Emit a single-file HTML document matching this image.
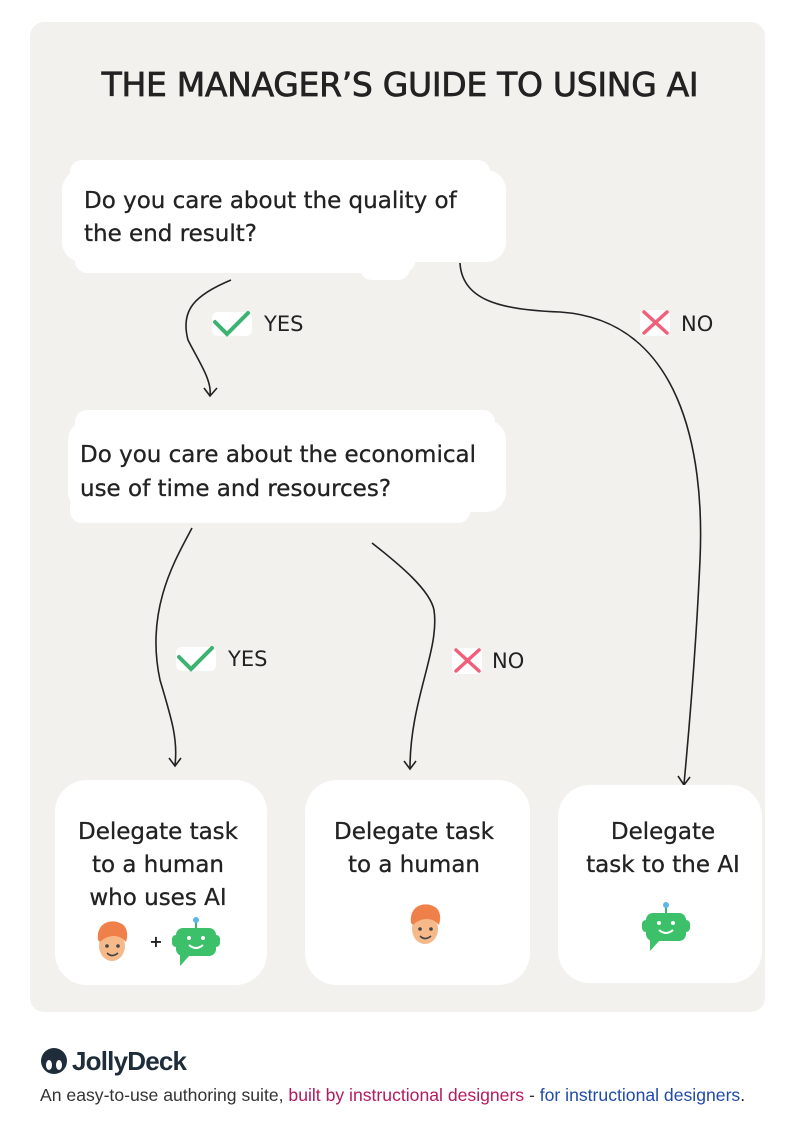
<!DOCTYPE html>
<html><head><meta charset="utf-8"><style>
html,body{margin:0;padding:0;background:#fff;width:800px;height:1127px;overflow:hidden}
svg{display:block}
text{font-family:"DejaVu Sans","Liberation Sans",sans-serif;fill:#222}
</style></head><body>
<svg width="800" height="1127" viewBox="0 0 800 1127" xmlns="http://www.w3.org/2000/svg">
<rect x="30" y="22" width="735" height="990" rx="14" fill="#f3f1ed"/>
<text x="400" y="96" text-anchor="middle" font-size="33" letter-spacing="-0.3" stroke="#222" stroke-width="0.7">THE MANAGER’S GUIDE TO USING AI</text>

<!-- Q1 blob -->
<g fill="#fff">
<rect x="62" y="170" width="444" height="92" rx="20"/>
<rect x="70" y="160" width="420" height="30" rx="12"/>
<rect x="75" y="245" width="340" height="28" rx="12"/>
<rect x="360" y="250" width="50" height="30" rx="12"/>
</g>
<text font-size="23" x="84" y="208" stroke="#222" stroke-width="0.3">Do you care about the quality of</text>
<text font-size="23" x="84" y="241" stroke="#222" stroke-width="0.3">the end result?</text>

<!-- Q2 blob -->
<g fill="#fff">
<rect x="68" y="420" width="438" height="92" rx="20"/>
<rect x="75" y="410" width="420" height="30" rx="12"/>
<rect x="70" y="495" width="400" height="28" rx="12"/>
</g>
<text font-size="23" x="80" y="462" stroke="#222" stroke-width="0.3">Do you care about the economical</text>
<text font-size="23" x="80" y="496" stroke="#222" stroke-width="0.3">use of time and resources?</text>

<!-- connectors -->
<g fill="none" stroke="#222" stroke-width="1.6">
<path d="M231 280 C195 295 180 310 188 340 C198 360 212 380 210 395"/>
<path d="M204 388 L210 396 L217 388"/>
<path d="M460 263 C462 300 500 310 560 312 C680 320 705 450 700 560 C696 650 690 720 684 784"/>
<path d="M678 776 L684 785 L690 777"/>
<path d="M192 528 C175 560 145 610 160 680 C172 720 178 740 175 765"/>
<path d="M169 758 L175 766 L181 758"/>
<path d="M372 543 C400 565 430 590 434 610 C440 650 410 700 410 768"/>
<path d="M404 761 L410 769 L416 761"/>
</g>

<!-- labels -->
<rect x="212" y="312" width="40" height="24" rx="6" fill="#fff"/>
<path d="M215 322 L227 334 L248 313" stroke="#3cb371" stroke-width="4" fill="none" stroke-linecap="round"/>
<text font-size="21" x="264" y="331">YES</text>
<rect x="176" y="647" width="40" height="24" rx="6" fill="#fff"/>
<path d="M179 657 L191 669 L212 648" stroke="#3cb371" stroke-width="4" fill="none" stroke-linecap="round"/>
<text font-size="21" x="228" y="666">YES</text>
<rect x="640" y="310" width="30" height="26" rx="6" fill="#fff"/>
<path d="M644 312 L667 333 M667 312 L644 333" stroke="#f0607a" stroke-width="3.5" stroke-linecap="round"/>
<text font-size="21" x="681" y="331">NO</text>
<rect x="452" y="648" width="30" height="26" rx="6" fill="#fff"/>
<path d="M456 650 L479 671 M479 650 L456 671" stroke="#f0607a" stroke-width="3.5" stroke-linecap="round"/>
<text font-size="21" x="492" y="668">NO</text>

<!-- bottom boxes -->
<g fill="#fff">
<rect x="55" y="780" width="212" height="205" rx="32"/>
<rect x="305" y="780" width="225" height="205" rx="32"/>
<rect x="558" y="785" width="204" height="198" rx="32"/>
</g>
<g font-size="23" text-anchor="middle" stroke="#222" stroke-width="0.3">
<text x="158" y="839">Delegate task</text>
<text x="158" y="872">to a human</text>
<text x="158" y="905">who uses AI</text>
<text x="414" y="839">Delegate task</text>
<text x="414" y="872">to a human</text>
<text x="663" y="839">Delegate</text>
<text x="663" y="872">task to the AI</text>
</g>

<!-- human icons -->
<g id="h">
<ellipse cx="112" cy="946" rx="13" ry="15" fill="#f6b98a"/>
<path d="M98 940 C96 922 112 918 122 924 C128 928 128 936 126 942 C120 934 108 934 100 942 Z" fill="#f0804a"/>
<circle cx="107" cy="946" r="1.8" fill="#444"/><circle cx="118" cy="946" r="1.8" fill="#444"/>
<path d="M107 953 Q112 958 118 953" stroke="#444" stroke-width="1.6" fill="none"/>
</g>
<use href="#h" x="313" y="-17"/>
<text x="156" y="947" font-size="16" text-anchor="middle" font-weight="bold">+</text>
<!-- robots -->
<g id="r">
<line x1="196" y1="922" x2="196" y2="928" stroke="#3cb371" stroke-width="2"/>
<circle cx="196" cy="920" r="3" fill="#5bb7e8"/>
<rect x="176" y="928" width="40" height="28" rx="7" fill="#3cc06a"/>
<rect x="172" y="935" width="48" height="12" rx="4" fill="#3cc06a"/>
<path d="M180 954 L180 966 L190 955 Z" fill="#3cc06a"/>
<circle cx="189" cy="938" r="2" fill="#fff"/><circle cx="203" cy="938" r="2" fill="#fff"/>
<path d="M189 945 Q196 951 203 945" stroke="#fff" stroke-width="2" fill="none"/>
</g>
<use href="#r" x="470" y="-15"/>

<!-- footer -->
<circle cx="54" cy="1061" r="13" fill="#1f2d3a"/>
<ellipse cx="49" cy="1065" rx="3" ry="5" fill="#fff"/><ellipse cx="59" cy="1065" rx="3" ry="5" fill="#fff"/>
<text x="72" y="1070" font-size="26" font-weight="bold" style="font-family:'Liberation Sans',sans-serif;fill:#1f2d3a" letter-spacing="-0.8">JollyDeck</text>
<text x="40" y="1101" font-size="17.6" style="font-family:'Liberation Sans',sans-serif"><tspan style="fill:#333">An easy-to-use authoring suite, </tspan><tspan style="fill:#b5195e">built by instructional designers</tspan><tspan style="fill:#333"> - </tspan><tspan style="fill:#1f4aa8">for instructional designers</tspan><tspan>.</tspan></text>
</svg>
</body></html>
